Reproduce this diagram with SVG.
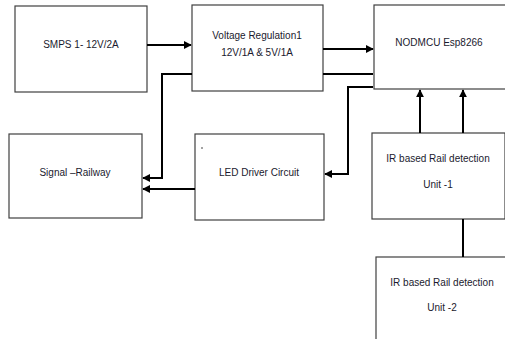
<svg xmlns="http://www.w3.org/2000/svg" width="505" height="339" viewBox="0 0 505 339">
<style>
.box{fill:#fff;stroke:#404040;stroke-width:1.2}
.t{font-family:"Liberation Sans",Arial,sans-serif;font-size:10px;fill:#1a1a2e;text-anchor:middle}
.c{fill:none;stroke:#000;stroke-width:2}
</style>
<defs>
<marker id="ah" viewBox="0 0 10 10" refX="9" refY="5" markerWidth="4" markerHeight="4" orient="auto" markerUnits="strokeWidth">
<path d="M0,0 L10,5 L0,10 z" fill="#000"/>
</marker>
</defs>
<rect width="505" height="339" fill="#fff"/>
<g id="smps"><rect class="box" x="15" y="6" width="132" height="86"/><text class="t" x="81" y="48">SMPS 1- 12V/2A</text></g>
<g id="voltage"><rect class="box" x="192" y="5" width="131" height="86"/><text class="t" x="257" y="39">Voltage Regulation1</text><text class="t" x="257" y="56">12V/1A &amp; 5V/1A</text></g>
<g id="nodemcu"><rect class="box" x="374" y="5" width="132" height="84"/><text class="t" x="439" y="46">NODMCU Esp8266</text></g>
<g id="signal"><rect class="box" x="9" y="134" width="133" height="84"/><text class="t" x="75" y="176">Signal –Railway</text></g>
<g id="led"><rect class="box" x="195" y="134" width="129" height="86"/><circle cx="202" cy="148" r="0.7" fill="#000"/><text class="t" x="259" y="176">LED Driver Circuit</text></g>
<g id="ir1"><rect class="box" x="372" y="133" width="133" height="86"/><text class="t" x="438" y="162">IR based Rail detection</text><text class="t" x="438" y="188">Unit -1</text></g>
<g id="ir2"><rect class="box" x="376" y="257" width="130" height="90"/><text class="t" x="442" y="286">IR based Rail detection</text><text class="t" x="442" y="311">Unit -2</text></g>
<g id="connectors">
<line class="c" x1="147" y1="45" x2="191" y2="45" marker-end="url(#ah)"/>
<line class="c" x1="323" y1="49" x2="373" y2="49" marker-end="url(#ah)"/>
<line class="c" x1="323" y1="74" x2="373" y2="74"/>
<polyline class="c" points="192,74 162,74 162,178 143,178" marker-end="url(#ah)"/>
<polyline class="c" points="373,87 348,87 348,174 325,174" marker-end="url(#ah)"/>
<line class="c" x1="195" y1="189" x2="143" y2="189" marker-end="url(#ah)"/>
<line class="c" x1="420" y1="133" x2="420" y2="90" marker-end="url(#ah)"/>
<line class="c" x1="463" y1="133" x2="463" y2="90" marker-end="url(#ah)"/>
<line class="c" x1="463" y1="219" x2="463" y2="257"/>
</g>
</svg>
